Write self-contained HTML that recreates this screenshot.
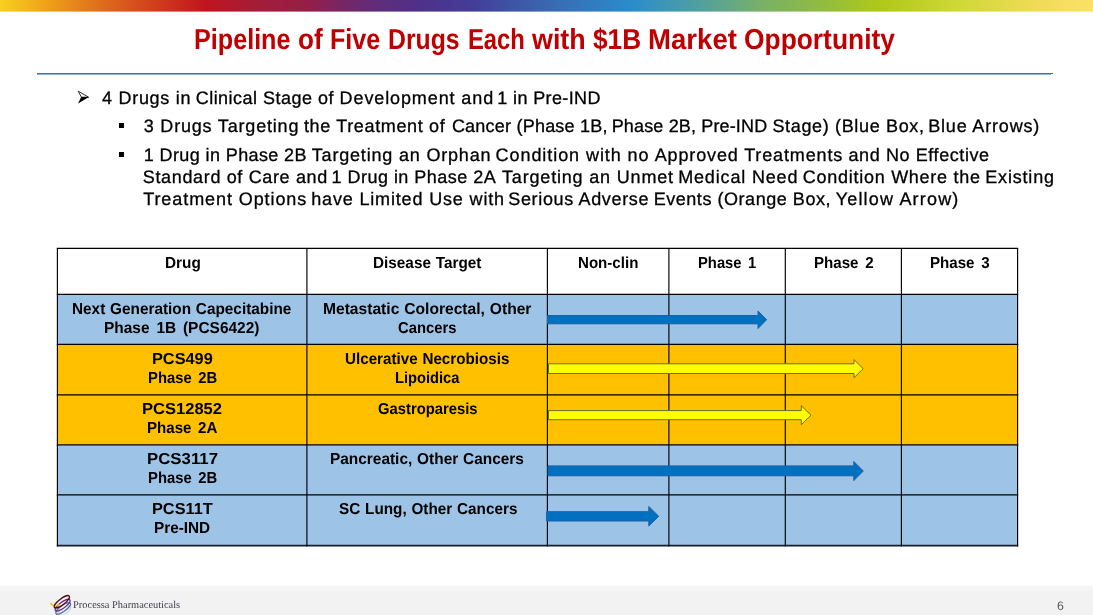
<!DOCTYPE html>
<html lang="en">
<head>
<meta charset="utf-8">
<title>Pipeline of Five Drugs Each with $1B Market Opportunity</title>
<style>
html,body{margin:0;padding:0;}
body{width:1093px;height:615px;position:relative;overflow:hidden;background:#fff;
  font-family:"Liberation Sans",sans-serif;color:#000;text-rendering:geometricPrecision;}
.abs{position:absolute;}
#topbar{left:0;top:0;width:1093px;height:12px;
  background:linear-gradient(to bottom,rgba(255,255,255,0) 11px,rgba(255,255,255,.4) 11px),linear-gradient(to right,
   #f8d020 0px,#f0a818 40px,#de6e1c 100px,#d03a1c 160px,#c0141e 205px,#a01e3c 265px,#961e46 305px,
   #782664 342px,#602c7a 375px,#503088 415px,#443c98 470px,#3a68b0 548px,#2a8ccc 630px,#50a0a0 700px,
   #78b068 760px,#90bc40 822px,#b0c818 880px,#d0d838 960px,#f0dc58 1040px,#fce068 1093px);}
#title,.tw{white-space:nowrap;font-weight:bold;font-size:28.9px;line-height:30px;color:#c00000;}
.tw{position:absolute;top:0;transform-origin:0 50%;display:block;}
#rule{left:37px;top:73px;width:1016px;height:1px;background:#41719f;}
#rule2{left:37px;top:74px;width:1014px;height:1px;background:#8fb6da;}
.t{white-space:nowrap;font-size:18px;line-height:22px;color:#000;-webkit-text-stroke:0.3px #000;}
.c{position:absolute;white-space:nowrap;transform-origin:0 50%;font-weight:bold;font-size:15.9px;line-height:19px;}
.w{position:absolute;top:0;}
#footer{left:0;top:585px;width:1093px;height:30px;background:linear-gradient(to bottom,#fbfbfb 0,#fbfbfb 1px,#f6f6f6 1px,#f6f6f6 6px,#f2f2f2 6px);}
#brand{left:73.1px;top:599px;font-family:"Liberation Serif",serif;font-size:10.4px;line-height:14px;color:#3a3a4e;white-space:nowrap;}
#pg{left:1057.1px;top:598.5px;font-size:12.3px;line-height:14px;color:#555;}
</style>
</head>
<body>
<div id="topbar" class="abs"></div>
<div id="title" class="abs" style="left:0;top:24.7px;width:1093px;height:30px"><span class="tw" style="left:194.2px;transform:scaleX(0.871)">Pipeline</span> <span class="tw" style="left:298.1px;transform:scaleX(0.904)">of</span> <span class="tw" style="left:330.3px;transform:scaleX(0.869)">Five</span> <span class="tw" style="left:388.3px;transform:scaleX(0.857)">Drugs</span> <span class="tw" style="left:467.5px;transform:scaleX(0.823)">Each</span> <span class="tw" style="left:532.0px;transform:scaleX(0.930)">with</span> <span class="tw" style="left:593.4px;transform:scaleX(0.908)">$1B</span> <span class="tw" style="left:648.0px;transform:scaleX(0.955)">Market</span> <span class="tw" style="left:743.5px;transform:scaleX(0.913)">Opportunity</span></div>
<div id="rule" class="abs"></div>
<div id="rule2" class="abs"></div>

<!-- bullets -->
<svg class="abs" style="left:76px;top:89px" width="16" height="17" viewBox="76 89 16 17"><path d="M78.2 91.2 L88.6 97.2 L81.4 97.2 Z" fill="none" stroke="#000" stroke-width="0.8" stroke-linejoin="miter"/><path d="M81.2 97 L89 97 L78 103.4 Z" fill="#000"/></svg>
<div id="l1" class="abs t" style="left:0;top:86.6px;width:1093px;height:22px"><span class="w" style="left:102.1px;letter-spacing:0.70px">4 Drugs in</span> <span class="w" style="left:195.7px;letter-spacing:0.48px">Clinical Stage of</span> <span class="w" style="left:339.6px;letter-spacing:0.89px">Development and</span> <span class="w" style="left:497.3px;letter-spacing:0.37px">1 in Pre-IND</span></div>
<div class="abs" style="left:119px;top:123px;width:5px;height:5px;background:#000"></div>
<div id="l2" class="abs t" style="left:0;top:114.9px;width:1093px;height:22px"><span class="w" style="left:143.7px;letter-spacing:0.81px">3 Drugs Targeting</span> <span class="w" style="left:303.9px;letter-spacing:0.65px">the Treatment of</span> <span class="w" style="left:451.9px;letter-spacing:0.22px">Cancer (Phase 1B,</span> <span class="w" style="left:611.7px;letter-spacing:0.15px">Phase 2B, Pre-IND</span> <span class="w" style="left:772.4px;letter-spacing:0.66px">Stage) (Blue Box,</span> <span class="w" style="left:928.2px;letter-spacing:0.83px">Blue Arrows)</span></div>
<div class="abs" style="left:119px;top:152px;width:5px;height:5px;background:#000"></div>
<div id="l3" class="abs t" style="left:0;top:143.6px;width:1093px;height:22px"><span class="w" style="left:143.8px;letter-spacing:0.39px">1 Drug in Phase 2B</span> <span class="w" style="left:311.8px;letter-spacing:0.81px">Targeting an Orphan</span> <span class="w" style="left:495.6px;letter-spacing:0.93px">Condition with no</span> <span class="w" style="left:654.7px;letter-spacing:0.86px">Approved Treatments</span> <span class="w" style="left:848.5px;letter-spacing:0.59px">and No Effective</span></div>
<div id="l4" class="abs t" style="left:0;top:165.7px;width:1093px;height:22px"><span class="w" style="left:142.8px;letter-spacing:0.65px">Standard of Care and</span> <span class="w" style="left:331.5px;letter-spacing:0.48px">1 Drug in Phase 2A</span> <span class="w" style="left:502.0px;letter-spacing:0.82px">Targeting an Unmet</span> <span class="w" style="left:678.2px;letter-spacing:0.84px">Medical Need</span> <span class="w" style="left:802.7px;letter-spacing:0.74px">Condition Where the</span> <span class="w" style="left:985.3px;letter-spacing:0.81px">Existing</span></div>
<div id="l5" class="abs t" style="left:0;top:187.6px;width:1093px;height:22px"><span class="w" style="left:143.2px;letter-spacing:0.92px">Treatment Options</span> <span class="w" style="left:311.2px;letter-spacing:0.84px">have Limited Use with</span> <span class="w" style="left:508.3px;letter-spacing:0.65px">Serious Adverse</span> <span class="w" style="left:653.7px;letter-spacing:0.54px">Events (Orange Box,</span> <span class="w" style="left:835.7px;letter-spacing:1.19px">Yellow Arrow)</span></div>

<!-- table -->
<div id="tbl" class="abs" style="left:0;top:0;width:1093px;height:615px">
  <svg class="abs" style="left:0;top:0" width="1093" height="615" viewBox="0 0 1093 615">
    <rect x="57.4" y="294.4" width="960.2" height="50.0" fill="#9dc3e6"/>
    <rect x="57.4" y="344.4" width="960.2" height="100.5" fill="#ffc000"/>
    <rect x="57.4" y="444.9" width="960.2" height="100.8" fill="#9dc3e6"/>
    <g stroke="#000" stroke-width="1.15">
      <line x1="56.8" y1="248.4" x2="1018.2" y2="248.4"/>
      <line x1="56.8" y1="294.4" x2="1018.2" y2="294.4"/>
      <line x1="56.8" y1="344.4" x2="1018.2" y2="344.4"/>
      <line x1="56.8" y1="394.8" x2="1018.2" y2="394.8"/>
      <line x1="56.8" y1="444.9" x2="1018.2" y2="444.9"/>
      <line x1="56.8" y1="494.9" x2="1018.2" y2="494.9"/>
      <line x1="56.8" y1="545.7" x2="1018.2" y2="545.7" stroke-width="1.7" stroke="#15202c"/>
      <line x1="57.4" y1="248.4" x2="57.4" y2="546.6"/>
      <line x1="306.9" y1="248.4" x2="306.9" y2="546.6"/>
      <line x1="547.4" y1="248.4" x2="547.4" y2="546.6"/>
      <line x1="668.9" y1="248.4" x2="668.9" y2="546.6"/>
      <line x1="785.3" y1="248.4" x2="785.3" y2="546.6"/>
      <line x1="901.4" y1="248.4" x2="901.4" y2="546.6"/>
      <line x1="1017.6" y1="248.4" x2="1017.6" y2="546.6"/>
    </g>
  </svg>
  <!-- cell text -->
  <div id="h1" class="c" style="left:164.7px;top:253.5px;transform:scaleX(0.966);word-spacing:0.6px;">Drug</div>
  <div id="h2" class="c" style="left:372.7px;top:253.5px;transform:scaleX(0.964);word-spacing:0.6px;">Disease Target</div>
  <div id="h3" class="c" style="left:577.8px;top:253.5px;transform:scaleX(0.950);word-spacing:0.6px;">Non-clin</div>
  <div id="h4" class="c" style="left:697.5px;top:253.5px;transform:scaleX(0.930);word-spacing:2.6px;">Phase 1</div>
  <div id="h5" class="c" style="left:813.5px;top:253.5px;transform:scaleX(0.951);word-spacing:2.6px;">Phase 2</div>
  <div id="h6" class="c" style="left:929.6px;top:253.5px;transform:scaleX(0.951);word-spacing:2.6px;">Phase 3</div>
  <div id="r1a" class="c" style="left:72.3px;top:299.6px;transform:scaleX(0.965);word-spacing:0.6px;">Next Generation Capecitabine</div>
  <div id="r1b" class="c" style="left:104.3px;top:318.9px;transform:scaleX(0.973);word-spacing:2.6px;">Phase 1B (PCS6422)</div>
  <div id="r1c" class="c" style="left:322.6px;top:299.6px;transform:scaleX(0.982);word-spacing:0.6px;">Metastatic Colorectal, Other</div>
  <div id="r1d" class="c" style="left:398.3px;top:318.9px;transform:scaleX(0.931);word-spacing:0.6px;">Cancers</div>
  <div id="r2a" class="c" style="left:151.6px;top:349.6px;transform:scaleX(1.026);word-spacing:0.6px;">PCS499</div>
  <div id="r2b" class="c" style="left:147.8px;top:368.9px;transform:scaleX(0.932);word-spacing:2.6px;">Phase 2B</div>
  <div id="r2c" class="c" style="left:345.2px;top:349.6px;transform:scaleX(0.956);word-spacing:0.6px;">Ulcerative Necrobiosis</div>
  <div id="r2d" class="c" style="left:394.7px;top:368.9px;transform:scaleX(0.923);word-spacing:0.6px;">Lipoidica</div>
  <div id="r3a" class="c" style="left:141.8px;top:399.6px;transform:scaleX(1.041);word-spacing:0.6px;">PCS12852</div>
  <div id="r3b" class="c" style="left:147.2px;top:418.9px;transform:scaleX(0.949);word-spacing:2.6px;">Phase 2A</div>
  <div id="r3c" class="c" style="left:378.1px;top:399.6px;transform:scaleX(0.932);word-spacing:0.6px;">Gastroparesis</div>
  <div id="r4a" class="c" style="left:146.5px;top:449.6px;transform:scaleX(1.058);word-spacing:0.6px;">PCS3117</div>
  <div id="r4b" class="c" style="left:147.8px;top:468.9px;transform:scaleX(0.932);word-spacing:2.6px;">Phase 2B</div>
  <div id="r4c" class="c" style="left:330.3px;top:449.6px;transform:scaleX(0.970);word-spacing:0.6px;">Pancreatic, Other Cancers</div>
  <div id="r5a" class="c" style="left:151.6px;top:499.6px;transform:scaleX(1.026);word-spacing:0.6px;">PCS11T</div>
  <div id="r5b" class="c" style="left:153.9px;top:518.9px;transform:scaleX(0.963);word-spacing:0.6px;">Pre-IND</div>
  <div id="r5c" class="c" style="left:338.5px;top:499.6px;transform:scaleX(0.962);word-spacing:0.6px;">SC Lung, Other Cancers</div>
</div>

<!-- arrows -->
<svg class="abs" style="left:0;top:0" width="1093" height="615" viewBox="0 0 1093 615">
  <g fill="#0070c0" stroke="#1c60a6" stroke-width="1">
    <path d="M547.5 315.5 H758 V311 L766.6 319.7 L758 328.5 V323.8 H547.5 Z"/>
    <path d="M548 465.9 H853.8 V461.5 L863.3 471 L853.8 480.6 V475.8 H548 Z"/>
    <path d="M546.6 511.7 H648.8 V506.5 L658.7 516.3 L648.8 526 V521 H546.6 Z"/>
  </g>
  <g fill="#ffff00" stroke="#6d6d2e" stroke-width="1">
    <path d="M548.5 363.8 H854 V359.6 L863.2 368.7 L854 377.8 V373.5 H548.5 Z"/>
    <path d="M548.5 410.6 H801.3 V405.7 L811 415.2 L801.3 424.7 V419.7 H548.5 Z"/>
  </g>
</svg>

<!-- footer -->
<div id="footer" class="abs"></div>
<svg class="abs" style="left:45px;top:588px" width="36" height="27" viewBox="45 588 36 27">
  <g fill="none">
    <ellipse cx="63.4" cy="611.6" rx="8.6" ry="2.9" transform="rotate(-36 63.4 611.6)" stroke="#a6dcc0" stroke-width="1.1" opacity=".7"/>
    <ellipse cx="63.2" cy="608.4" rx="8.8" ry="2.9" transform="rotate(-36 63.2 608.4)" stroke="#2c50a4" stroke-width="1.1" opacity=".85"/>
    <ellipse cx="62.6" cy="605.2" rx="9" ry="3" transform="rotate(-36 62.6 605.2)" stroke="#6b2a80" stroke-width="1.2"/>
    <path d="M50.4 602.8 C52.2 605.8 55.6 606.4 59.4 604.6" stroke="#f2c21a" stroke-width="1.5"/>
    <ellipse cx="61.8" cy="601.8" rx="9.3" ry="3" transform="rotate(-37 61.8 601.8)" stroke="#4a0f16" stroke-width="1.3"/>
  </g>
</svg>
<div id="brand" class="abs">Processa Pharmaceuticals</div>
<div id="pg" class="abs">6</div>
</body>
</html>
